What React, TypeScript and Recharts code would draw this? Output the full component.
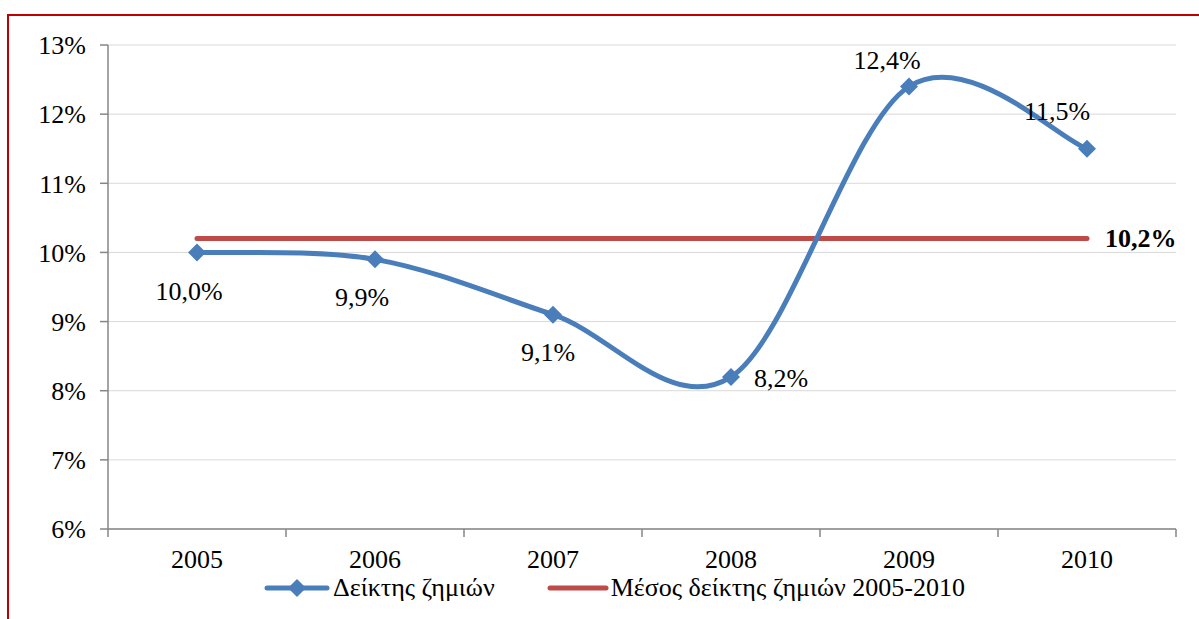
import { CartesianGrid, LabelList, Line, LineChart, XAxis, YAxis } from "recharts";

const years = ["2005", "2006", "2007", "2008", "2009", "2010"];
const lossRatio = [10.0, 9.9, 9.1, 8.2, 12.4, 11.5];
const averageRatio = [10.2, 10.2, 10.2, 10.2, 10.2, 10.2];
const yTicks = [6, 7, 8, 9, 10, 11, 12, 13];
const seriesNames = ["Δείκτης ζημιών", "Μέσος δείκτης ζημιών 2005-2010"];

const BLUE = "#4a7ebb";
const RED = "#be4b48";
const AXIS = "#868686";
const GRID = "#d9d9d9";
const FONT = '"Liberation Serif", "Times New Roman", serif';
const FONT_SIZE = 26;
const TICK_SIZE = 8;
const TICK_MARGIN = 13;

// where each data label sits relative to its point
const labelOffsets = [
	[-8, 39],
	[-13, 38],
	[-5, 38],
	[50, 2],
	[-22, -26],
	[-30, -37],
];

const data = years.map((year, i) => ({ year, ratio: lossRatio[i], avg: averageRatio[i] }));

const fmt = (v: number) => v.toFixed(1).replace(".", ",") + "%";

// Excel-like smoothed line (cardinal spline, tension 0)
const excelSmooth = (context: any) => {
	let pts: number[][] = [];
	return {
		areaStart() {},
		areaEnd() {},
		lineStart() {
			pts = [];
		},
		point(x: number, y: number) {
			pts.push([+x, +y]);
		},
		lineEnd() {
			const n = pts.length;
			if (!n) return;
			context.moveTo(pts[0][0], pts[0][1]);
			for (let i = 0; i < n - 1; i++) {
				const p0 = pts[Math.max(i - 1, 0)];
				const p1 = pts[i];
				const p2 = pts[i + 1];
				const p3 = pts[Math.min(i + 2, n - 1)];
				context.bezierCurveTo(
					p1[0] + (p2[0] - p0[0]) / 6,
					p1[1] + (p2[1] - p0[1]) / 6,
					p2[0] - (p3[0] - p1[0]) / 6,
					p2[1] - (p3[1] - p1[1]) / 6,
					p2[0],
					p2[1],
				);
			}
		},
	};
};

const Diamond = (props: any) => {
	const { cx, cy, index } = props;
	if (cx == null || cy == null) return null;
	const r = 9;
	return (
		<polygon
			key={`d-${index}`}
			points={`${cx},${cy - r} ${cx + r},${cy} ${cx},${cy + r} ${cx - r},${cy}`}
			fill={BLUE}
		/>
	);
};

const YearTick = (props: any) => {
	const { x, y, payload, index } = props;
	const half = payload?.offset || 0;
	const top = y - TICK_MARGIN - TICK_SIZE;
	return (
		<g>
			<line x1={x - half} x2={x - half} y1={top} y2={top + TICK_SIZE} stroke={AXIS} strokeWidth={1.5} />
			{index === years.length - 1 && (
				<line x1={x + half} x2={x + half} y1={top} y2={top + TICK_SIZE} stroke={AXIS} strokeWidth={1.5} />
			)}
			<text x={x} y={y} dy="0.71em" textAnchor="middle" fontFamily={FONT} fontSize={FONT_SIZE} fill="#000">
				{payload.value}
			</text>
		</g>
	);
};

const RatioLabel = (props: any) => {
	const { x, y, value, index } = props;
	const [dx, dy] = labelOffsets[index] || [0, -20];
	return (
		<text
			x={x + dx}
			y={y + dy}
			textAnchor="middle"
			dominantBaseline="central"
			fontFamily={FONT}
			fontSize={FONT_SIZE}
			fill="#000"
		>
			{fmt(value)}
		</text>
	);
};

const AvgLabel = (props: any) => {
	const { x, y, value, index } = props;
	if (index !== years.length - 1) return null;
	return (
		<text
			x={x + 18}
			y={y}
			dominantBaseline="central"
			fontFamily={FONT}
			fontSize={FONT_SIZE}
			fontWeight="bold"
			fill="#000"
		>
			{fmt(value)}
		</text>
	);
};

export default function App() {
	return (
		<div
			style={{
				position: "absolute",
				left: 0,
				top: 0,
				width: 1199,
				height: 619,
				overflow: "hidden",
				background: "#fff",
				fontFamily: FONT,
			}}
		>
			<div style={{ position: "absolute", left: 0, top: 0 }}>
				<LineChart width={1199} height={619} data={data} margin={{ top: 45, right: 23, bottom: 50, left: 0 }}>
					<CartesianGrid vertical={false} stroke={GRID} strokeWidth={1} />
					<XAxis
						dataKey="year"
						scale="band"
						height={40}
						axisLine={{ stroke: AXIS, strokeWidth: 1.5 }}
						tickLine={false}
						tickSize={TICK_SIZE}
						tickMargin={TICK_MARGIN}
						tick={<YearTick />}
						interval={0}
					/>
					<YAxis
						type="number"
						domain={[6, 13]}
						ticks={yTicks}
						width={108}
						tickFormatter={(v: number) => `${v}%`}
						axisLine={{ stroke: AXIS, strokeWidth: 1.5 }}
						tickLine={{ stroke: AXIS, strokeWidth: 1.5 }}
						tickSize={TICK_SIZE}
						tickMargin={TICK_MARGIN + 1}
						tick={{ fontFamily: FONT, fontSize: FONT_SIZE, fill: "#000" }}
					/>
					<Line
						dataKey="avg"
						type="linear"
						stroke={RED}
						strokeWidth={5}
						strokeLinecap="round"
						dot={false}
						activeDot={false}
						isAnimationActive={false}
					>
						<LabelList dataKey="avg" content={<AvgLabel />} />
					</Line>
					<Line
						dataKey="ratio"
						type={excelSmooth as any}
						stroke={BLUE}
						strokeWidth={5}
						dot={<Diamond />}
						activeDot={false}
						isAnimationActive={false}
					>
						<LabelList dataKey="ratio" content={<RatioLabel />} />
					</Line>
				</LineChart>
			</div>
			<div
				style={{
					position: "absolute",
					left: 264,
					top: 576,
					height: 24,
					lineHeight: "24px",
					display: "flex",
					alignItems: "center",
					fontSize: FONT_SIZE,
					color: "#000",
					whiteSpace: "nowrap",
				}}
			>
				<svg width={66} height={20}>
					<line x1={3} x2={63} y1={10} y2={10} stroke={BLUE} strokeWidth={5} strokeLinecap="round" />
					<polygon points="33,1 42,10 33,19 24,10" fill={BLUE} />
				</svg>
				<span style={{ marginLeft: 3 }}>{seriesNames[0]}</span>
				<svg width={62} height={20} style={{ marginLeft: 52 }}>
					<line x1={3} x2={59} y1={10} y2={10} stroke={RED} strokeWidth={5} strokeLinecap="round" />
				</svg>
				<span style={{ marginLeft: 2 }}>{seriesNames[1]}</span>
			</div>
			<div
				style={{
					position: "absolute",
					left: 7,
					top: 14,
					width: 1300,
					height: 700,
					border: "2px solid #c00000",
					pointerEvents: "none",
				}}
			/>
		</div>
	);
}
